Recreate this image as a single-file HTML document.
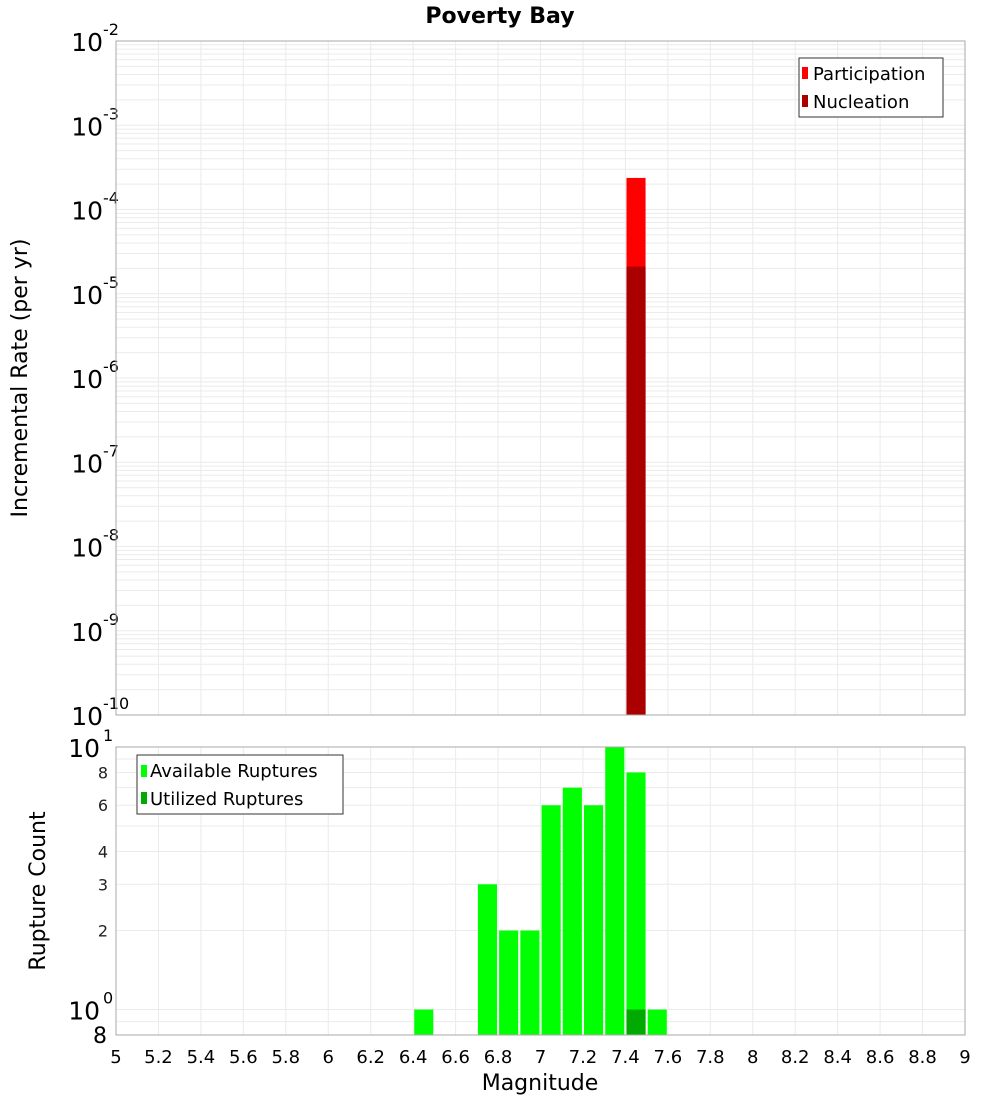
<!DOCTYPE html>
<html><head><meta charset="utf-8"><style>
body{margin:0;background:#fff;font-family:"Liberation Sans","DejaVu Sans",sans-serif;}
svg text{font-family:"DejaVu Sans","Liberation Sans",sans-serif;}
</style></head><body>
<svg id="chart" width="1000" height="1100" xmlns="http://www.w3.org/2000/svg">
<text x="500" y="23" text-anchor="middle" font-size="22" font-weight="bold">Poverty Bay</text>
<g id="topPlot"></g>
<g id="botPlot"></g>
<text transform="translate(27,378) rotate(-90)" text-anchor="middle" font-size="22">Incremental Rate (per yr)</text>
<text transform="translate(45,891) rotate(-90)" text-anchor="middle" font-size="22">Rupture Count</text>
<text x="540" y="1090" text-anchor="middle" font-size="22">Magnitude</text>
</svg>
<script>
const mags=[6.45,6.75,6.85,6.95,7.05,7.15,7.25,7.35,7.45,7.55];
const available=[1,3,2,2,6,7,6,10,8,1];
const utilizedMags=[7.45];
const utilized=[1];
const rateMags=[7.45];
const participation=[2.37e-4];
const nucleation=[2.1e-5];
const xTicks=[5,5.2,5.4,5.6,5.8,6,6.2,6.4,6.6,6.8,7,7.2,7.4,7.6,7.8,8,8.2,8.4,8.6,8.8,9];
const rateExps=[-10,-9,-8,-7,-6,-5,-4,-3,-2];
const countTicks=[2,3,4,6,8];

const NS="http://www.w3.org/2000/svg";
const X0=116,X1=965;
const x=m=>X0+(m-5)/4*(X1-X0);
const T0=41,T1=715;
const yT=v=>T1-(Math.log10(v)+10)/8*(T1-T0);
const B0=747,B1=1035;
const yB=v=>B1-(Math.log10(v)-Math.log10(0.8))/(1-Math.log10(0.8))*(B1-B0);
function el(p,tag,a,txt){const e=document.createElementNS(NS,tag);for(const k in a)e.setAttribute(k,a[k]);if(txt!==undefined)e.textContent=txt;p.appendChild(e);return e;}
const topG=document.getElementById('topPlot'),botG=document.getElementById('botPlot');

for(let d=-10;d<-2;d++)for(let k=1;k<10;k++){const v=k*Math.pow(10,d);const g=el(topG,'line',{x1:X0,x2:X1,y1:yT(v),y2:yT(v),stroke:'#ebebeb','stroke-width':1});

}
xTicks.forEach(t=>{const g=el(topG,'line',{x1:x(t),x2:x(t),y1:T0,y2:T1,stroke:'#ebebeb'});


const h=el(botG,'line',{x1:x(t),x2:x(t),y1:B0,y2:B1,stroke:'#ebebeb'});


const l=el(botG,'text',{x:x(t),y:1063,'text-anchor':'middle','font-size':18},String(t));

});
rateExps.forEach(e=>{const y=yT(Math.pow(10,e));const t=el(topG,'text',{x:103,y:y+10,'text-anchor':'end','font-size':25},'10');


const s=el(topG,'text',{x:103,y:y-6,'font-size':16},String(e));

});
const bw=0.09*(X1-X0)/4;
rateMags.forEach((m,i)=>{const r=el(topG,'rect',{x:x(m)-bw/2,y:yT(participation[i]),width:bw,height:T1-yT(participation[i]),fill:'#ff0000'});


const n=el(topG,'rect',{x:x(m)-bw/2,y:yT(nucleation[i]),width:bw,height:T1-yT(nucleation[i]),fill:'#aa0000'});

});
el(topG,'rect',{x:X0,y:T0,width:X1-X0,height:T1-T0,fill:'none',stroke:'#aaa'});
const lg=el(topG,'g',{});


el(lg,'rect',{x:799,y:58,width:144,height:59,fill:'#fff',stroke:'#333'});
el(lg,'rect',{x:802,y:67,width:6,height:12,fill:'#ff0000'});
el(lg,'text',{x:813,y:80,'font-size':18},'Participation');
el(lg,'rect',{x:802,y:95,width:6,height:12,fill:'#aa0000'});
el(lg,'text',{x:813,y:108,'font-size':18},'Nucleation');

[0.9,1,2,3,4,5,6,7,8,9].forEach(v=>{const g=el(botG,'line',{x1:X0,x2:X1,y1:yB(v),y2:yB(v),stroke:'#ebebeb'});

});
countTicks.forEach(v=>{const t=el(botG,'text',{x:108,y:yB(v)+6,'text-anchor':'end','font-size':16,fill:'#222'},String(v));

});
[[1,'0'],[10,'1']].forEach(([v,e])=>{const y=yB(v);el(botG,'text',{x:100,y:y+10,'text-anchor':'end','font-size':25},'10');el(botG,'text',{x:103,y:y-6,'font-size':16},e);});
el(botG,'text',{x:107,y:1043,'text-anchor':'end','font-size':22},'8');
mags.forEach((m,i)=>{const r=el(botG,'rect',{x:x(m)-bw/2,y:yB(available[i]),width:bw,height:B1-yB(available[i]),fill:'#00ff00'});

});
utilizedMags.forEach((m,i)=>{const r=el(botG,'rect',{x:x(m)-bw/2,y:yB(utilized[i]),width:bw,height:B1-yB(utilized[i]),fill:'#00aa00'});

});
el(botG,'rect',{x:X0,y:B0,width:X1-X0,height:B1-B0,fill:'none',stroke:'#aaa'});
const lb=el(botG,'g',{});


el(lb,'rect',{x:137,y:755,width:206,height:59,fill:'#fff',stroke:'#333'});
el(lb,'rect',{x:141,y:765,width:6,height:12,fill:'#00ff00'});
el(lb,'text',{x:150,y:777,'font-size':18},'Available Ruptures');
el(lb,'rect',{x:141,y:792,width:6,height:12,fill:'#00aa00'});
el(lb,'text',{x:150,y:805,'font-size':18},'Utilized Ruptures');
</script>
</body></html>
